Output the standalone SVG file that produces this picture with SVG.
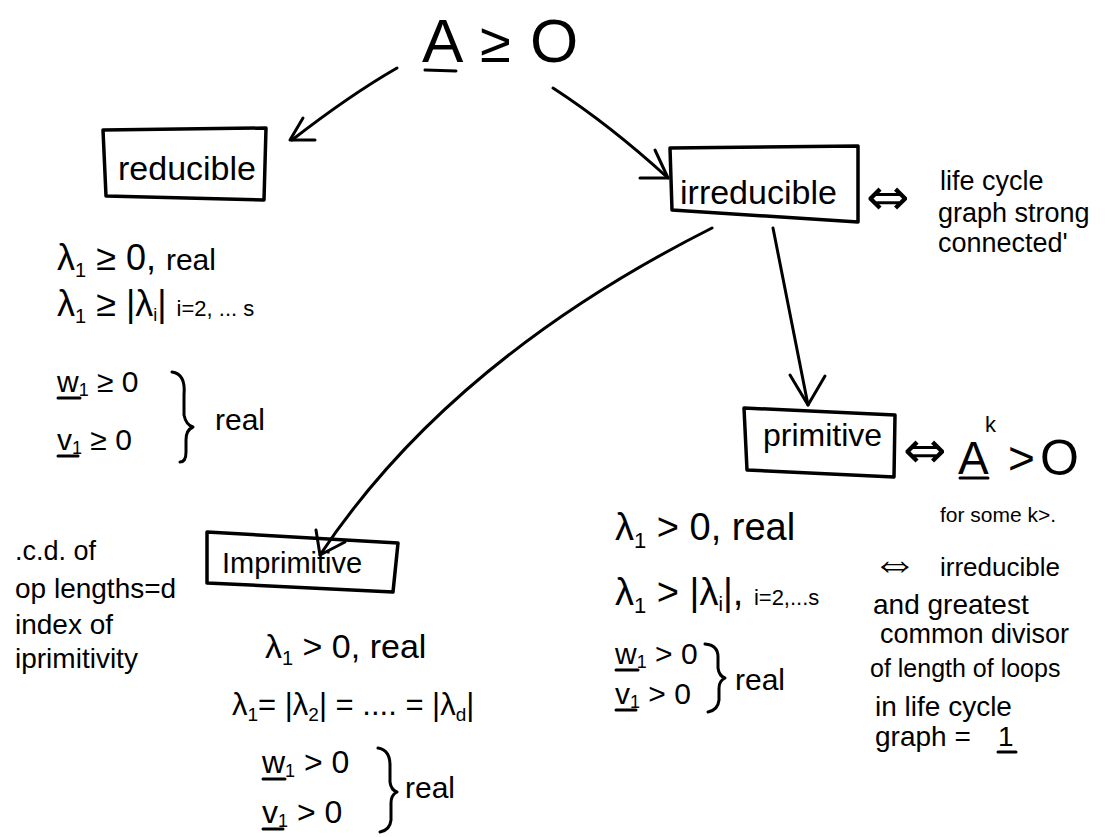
<svg xmlns="http://www.w3.org/2000/svg" width="1111" height="837" viewBox="0 0 1111 837">
<style>
text{font-family:"Liberation Sans","DejaVu Sans",sans-serif;fill:#000}
.ln{fill:none;stroke:#000;stroke-width:3;stroke-linecap:round;stroke-linejoin:round}
.bx{fill:none;stroke:#000;stroke-width:3.5;stroke-linejoin:round}
.iff{font-family:"DejaVu Sans",sans-serif;font-size:52px}
.big{font-size:34px}
.md{font-size:30px}
.sm{font-size:27px}
</style>
<rect width="1111" height="837" fill="#fff"/>
<g id="title">
<text x="422" y="62" font-size="62">A</text>
<text x="480" y="62" font-size="56">≥</text>
<text x="530" y="62" font-size="62">O</text>
<path class="ln" d="M425 70 L456 71"/>
</g>
<g id="connectors">
<path class="ln" d="M397 68 Q350 95 292 140"/>
<path class="ln" d="M303 118 L290 140 L315 140"/>
<path class="ln" d="M553 88 Q610 125 668 178"/>
<path class="ln" d="M640 178 L668 178 L655 150"/>
<path class="ln" d="M773 228 L808 405"/>
<path class="ln" d="M790 375 L808 405 L825 376"/>
<path class="ln" d="M712 228 Q450 360 320 555"/>
<path class="ln" d="M316 530 L320 555 L345 542"/>
</g>
<g id="reducible">
<path class="bx" d="M103 130 L266 128 L264 200 L106 196 Z"/>
<text x="118" y="180" class="big">reducible</text>
</g>
<g id="reducible-props">
<text x="57" y="270" font-size="36">λ<tspan font-size="20" dy="7">1</tspan><tspan dy="-7"> ≥ 0,  </tspan><tspan font-size="30">real</tspan></text>
<text x="57" y="316" font-size="36">λ<tspan font-size="20" dy="7">1</tspan><tspan dy="-7"> ≥ |λ</tspan><tspan font-size="18" dy="5">i</tspan><tspan dy="-5">|  </tspan><tspan font-size="22">i=2, ... s</tspan></text>
<text x="57" y="392" class="md">w<tspan font-size="18" dy="4">1</tspan><tspan dy="-4"> ≥ 0</tspan></text>
<path class="ln" d="M58 398 L80 398"/>
<text x="57" y="450" class="md">v<tspan font-size="18" dy="4">1</tspan><tspan dy="-4"> ≥ 0</tspan></text>
<path class="ln" d="M58 456 L78 456"/>
<path class="ln" d="M172 372 Q186 374 184 395 L184 415 Q186 425 193 427 Q186 430 186 440 L186 452 Q186 462 180 462"/>
<text x="215" y="430" class="md">real</text>
</g>
<g id="irreducible">
<path class="bx" d="M670 148 L858 146 L858 222 L672 210 Z"/>
<text x="680" y="204" class="big">irreducible</text>
</g>
<g id="irreducible-note">
<text x="866" y="215" class="iff">⇔</text>
<text x="940" y="190" class="sm">life cycle</text>
<text x="938" y="222" class="sm">graph strong</text>
<text x="938" y="252" class="sm">connected'</text>
</g>
<g id="primitive">
<path class="bx" d="M744 408 L895 415 L894 477 L747 470 Z"/>
<text x="763" y="446" font-size="32">primitive</text>
</g>
<g id="primitive-note">
<text x="903" y="468" class="iff">⇔</text>
<text x="958" y="474" font-size="46">A</text>
<path class="ln" d="M960 478 L988 478"/>
<text x="985" y="432" font-size="22">k</text>
<text x="1008" y="474" font-size="46">&gt;</text>
<text x="1040" y="475" font-size="50">O</text>
<text x="940" y="522" font-size="21">for some k&gt;.</text>
<text x="872" y="578" font-family="DejaVu Sans, sans-serif" font-size="46">⇔</text>
<text x="940" y="576" font-size="26">irreducible</text>
<text x="873" y="614" font-size="28">and greatest</text>
<text x="880" y="643" font-size="27">common divisor</text>
<text x="870" y="677" font-size="25">of length of loops</text>
<text x="875" y="716" font-size="28">in life cycle</text>
<text x="875" y="746" font-size="28">graph =</text>
<text x="998" y="746" font-size="28">1</text>
<path class="ln" d="M998 752 L1016 752"/>
</g>
<g id="primitive-props">
<text x="615" y="540" font-size="38">λ<tspan font-size="22" dy="8">1</tspan><tspan dy="-8"> &gt; 0, real</tspan></text>
<text x="615" y="605" font-size="38">λ<tspan font-size="22" dy="8">1</tspan><tspan dy="-8"> &gt; |λ</tspan><tspan font-size="20" dy="6">i</tspan><tspan dy="-6">|, </tspan><tspan font-size="22">i=2,...s</tspan></text>
<text x="615" y="664" class="md">w<tspan font-size="18" dy="4">1</tspan><tspan dy="-4"> &gt; 0</tspan></text>
<path class="ln" d="M616 670 L638 670"/>
<text x="615" y="704" class="md">v<tspan font-size="18" dy="4">1</tspan><tspan dy="-4"> &gt; 0</tspan></text>
<path class="ln" d="M616 710 L636 710"/>
<path class="ln" d="M705 644 Q718 645 718 657 L718 668 Q719 676 725 678 Q719 681 719 688 L719 700 Q718 710 708 712"/>
<text x="735" y="690" class="md">real</text>
</g>
<g id="imprimitive">
<path class="bx" d="M207 532 L398 543 L393 592 L207 583 Z"/>
<text x="222" y="573" font-size="29">Imprimitive</text>
</g>
<g id="imprimitive-note">
<text x="15" y="560" class="sm">.c.d. of</text>
<text x="15" y="598" font-size="28">op lengths=d</text>
<text x="15" y="634" font-size="28">index of</text>
<text x="15" y="668" font-size="28">iprimitivity</text>
</g>
<g id="imprimitive-props">
<text x="265" y="658" font-size="34">λ<tspan font-size="20" dy="7">1</tspan><tspan dy="-7"> &gt; 0, real</tspan></text>
<text x="232" y="715" font-size="31">λ<tspan font-size="19" dy="6">1</tspan><tspan dy="-6">= |λ</tspan><tspan font-size="19" dy="6">2</tspan><tspan dy="-6">| = .... = |λ</tspan><tspan font-size="19" dy="6">d</tspan><tspan dy="-6">|</tspan></text>
<text x="262" y="773" font-size="32">w<tspan font-size="18" dy="4">1</tspan><tspan dy="-4"> &gt; 0</tspan></text>
<path class="ln" d="M263 779 L285 779"/>
<text x="262" y="823" font-size="32">v<tspan font-size="18" dy="4">1</tspan><tspan dy="-4"> &gt; 0</tspan></text>
<path class="ln" d="M263 829 L283 829"/>
<path class="ln" d="M378 748 Q390 750 390 765 L390 782 Q391 790 397 792 Q391 795 391 803 L391 820 Q390 830 380 832"/>
<text x="405" y="798" class="md">real</text>
</g>
</svg>
